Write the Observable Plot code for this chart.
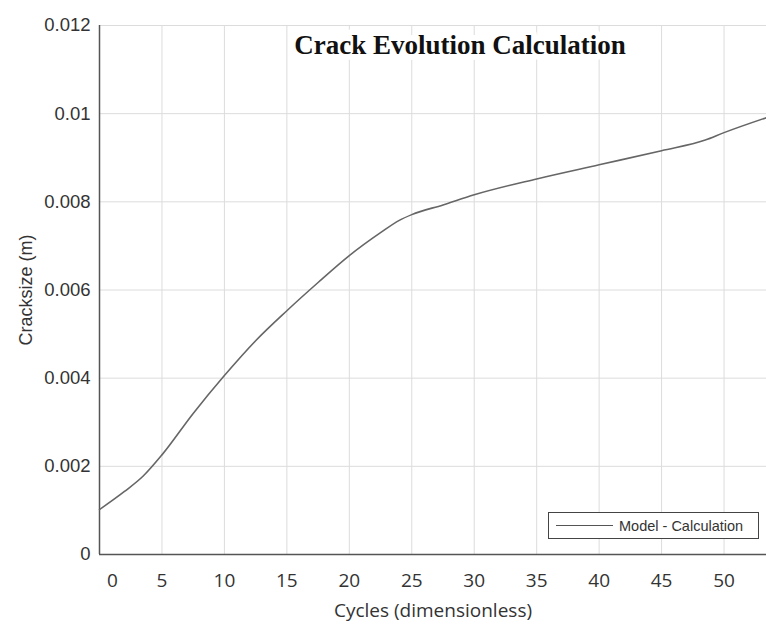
<!DOCTYPE html>
<html>
<head>
<meta charset="utf-8">
<script src="https://cdn.jsdelivr.net/npm/d3@7"></script>
<script src="https://cdn.jsdelivr.net/npm/@observablehq/plot@0.6"></script>
<style>
  html, body { margin: 0; padding: 0; background: #fff; }
  #wrap { position: relative; width: 766px; height: 630px; }
  #legend {
    position: absolute; left: 548px; top: 512px; width: 209px; height: 25px;
    border: 1px solid #444; background: #fff; box-sizing: content-box;
    font-family: "Liberation Sans", Arial, sans-serif; font-size: 14.5px; color: #333;
    display: flex; align-items: center;
  }
  #legend .sw { width: 57px; height: 0; border-top: 1.5px solid #555; margin-left: 7px; margin-right: 6px; }
</style>
</head>
<body>
<div id="wrap"></div>
<script>
const title = "Crack Evolution Calculation";
const xLabel = "Cycles (dimensionless)";
const yLabel = "Cracksize (m)";
const seriesName = "Model - Calculation";

const cycles = [0, 2, 3.5, 5, 7.5, 10, 12.5, 15, 17.5, 20, 22.5, 24, 25, 27.5, 30, 35, 40, 45, 48.5, 50, 53.4];
const cracksize = [0.00102, 0.00143, 0.00178, 0.00226, 0.00320, 0.00406, 0.00485, 0.00553, 0.00617, 0.00678, 0.00730, 0.00758, 0.00771, 0.00793, 0.00816, 0.00852, 0.00884, 0.00916, 0.00940, 0.00957, 0.00991];

const xTicks = [0, 5, 10, 15, 20, 25, 30, 35, 40, 45, 50];
const yTicks = [0, 0.002, 0.004, 0.006, 0.008, 0.01, 0.012];

const data = cycles.map((c, i) => ({cycle: c, size: cracksize[i]}));

const chart = Plot.plot({
  width: 766,
  height: 630,
  marginLeft: 99,
  marginRight: 0,
  marginTop: 25,
  marginBottom: 76,
  x: {domain: [0, 53.4]},
  y: {domain: [0, 0.012]},
  style: {background: "#fff", color: "#333"},
  marks: [
    Plot.gridX(xTicks, {stroke: "#dcdcdc", strokeOpacity: 1}),
    Plot.gridY(yTicks, {stroke: "#dcdcdc", strokeOpacity: 1}),
    Plot.text([title], {
      frameAnchor: "top", dx: 27, dy: 9,
      fontFamily: "Liberation Serif, serif", fontWeight: "bold", fontSize: 27,
      fill: "#111", stroke: "white", strokeWidth: 12
    }),
    Plot.ruleX([0], {stroke: "#555", strokeWidth: 1.5}),
    Plot.ruleY([0], {stroke: "#555", strokeWidth: 1.5}),
    Plot.axisX(xTicks, {
      tickSize: 0, tickPadding: 19, fontSize: 19,
      fontFamily: "Open Sans, sans-serif", fill: "#333",
      label: xLabel, labelAnchor: "center", labelArrow: "none", labelOffset: 62
    }),
    Plot.axisY(yTicks, {
      tickSize: 0, tickPadding: 9, fontSize: 18.5,
      fontFamily: "Liberation Sans, Arial, sans-serif", fill: "#333",
      tickFormat: d => String(+d.toFixed(3)),
      label: yLabel, labelAnchor: "center", labelArrow: "none", labelOffset: 80
    }),
    Plot.line(data, {x: "cycle", y: "size", stroke: "#666", strokeWidth: 1.6, curve: "monotone-x"})
  ]
});

const wrap = document.getElementById("wrap");
wrap.appendChild(chart);

// style axis labels fonts
chart.querySelectorAll("[aria-label='x-axis label'] text").forEach(t => {
  t.setAttribute("font-size", "19"); t.setAttribute("font-family", "Open Sans, sans-serif");
});
chart.querySelectorAll("[aria-label='y-axis label'] text").forEach(t => {
  t.setAttribute("font-size", "18"); t.setAttribute("font-family", "Liberation Sans, Arial, sans-serif");
});
// the "0" cycle label sits slightly right of the axis in the original
chart.querySelectorAll("[aria-label='x-axis tick label'] text").forEach(t => {
  if (t.textContent === "0") t.setAttribute("dx", "13");
});

const legend = document.createElement("div");
legend.id = "legend";
const sw = document.createElement("span");
sw.className = "sw";
const lt = document.createElement("span");
lt.textContent = seriesName;
legend.appendChild(sw);
legend.appendChild(lt);
wrap.appendChild(legend);
</script>
</body>
</html>
